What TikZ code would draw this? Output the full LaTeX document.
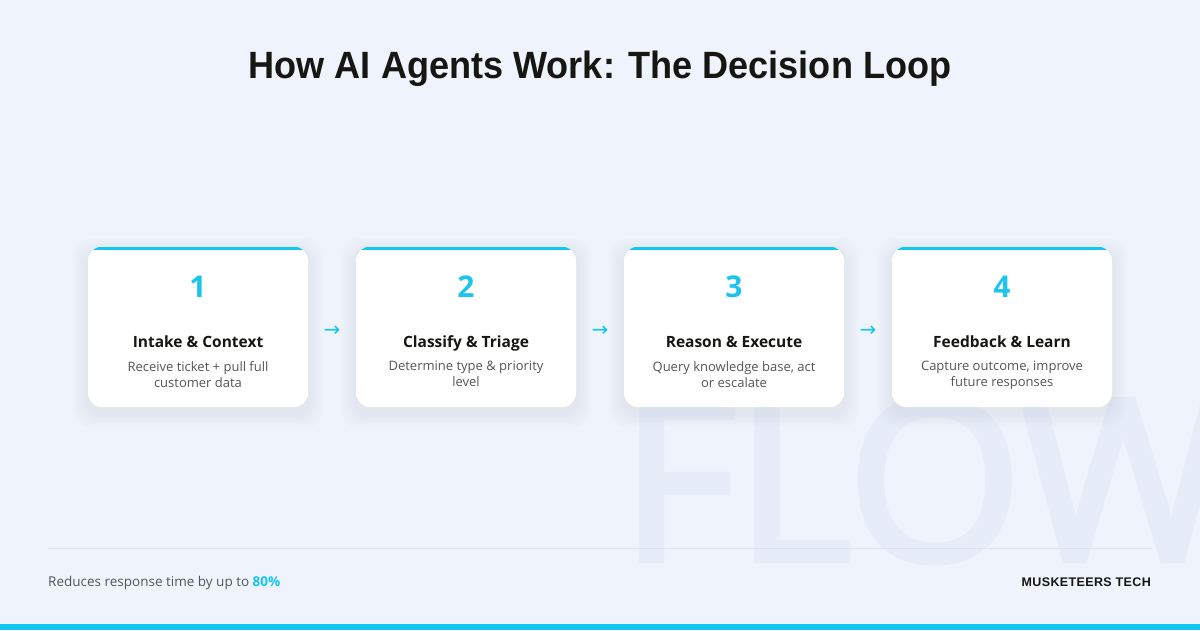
\documentclass[tikz,border=0pt]{standalone}
\usepackage{fontspec}
\setmainfont{Open Sans}
\newfontfamily\titlefont{Liberation Sans}
\newfontfamily\brandfont[LetterSpace=3]{Liberation Sans}
\newfontfamily\symfont{DejaVu Sans}
\newfontfamily\wmfont[FakeBold=3]{Open Sans}
\usetikzlibrary{calc}
\definecolor{bgc}{RGB}{239,243,251}
\definecolor{cyanc}{RGB}{16,199,241}
\definecolor{numc}{RGB}{30,196,240}
\definecolor{wmc}{RGB}{230,237,249}
\definecolor{linec}{RGB}{220,225,234}
\definecolor{ink}{RGB}{22,22,18}
\definecolor{descc}{RGB}{85,85,90}
\definecolor{shadc}{RGB}{110,125,160}
\pgfdeclarelayer{back}
\pgfdeclarelayer{shade}
\pgfsetlayers{back,shade,main}
\begin{document}
\begin{tikzpicture}[x=1pt,y=-1pt,
  card/.style={fill=white, rounded corners=14pt, minimum width=220pt, minimum height=160pt, inner sep=0pt},
  numtext/.style={font=\fontsize{30}{30}\selectfont\bfseries, text=numc, inner sep=0pt},
  ctitle/.style={font=\fontsize{15.5}{19}\selectfont\bfseries, text=ink, inner sep=0pt},
  cdesc/.style={font=\fontsize{13}{16}\selectfont, text=descc, align=center, inner sep=0pt},
  flowarrow/.style={font=\symfont\fontsize{20}{20}\selectfont, text=cyanc, inner sep=0pt},
  footer/.style={font=\fontsize{13.5}{13.5}\selectfont, text=descc, inner sep=0pt}
]
\useasboundingbox (0,0) rectangle (1200,630);

% title
\node[anchor=base, inner sep=0pt, text=ink, font=\titlefont\bfseries\fontsize{38}{38}\selectfont] (title) at (600,78)
  {\scalebox{0.95}[1]{How AI Agents Work: The Decision Loop}};

% cards
\foreach \i/\x/\t/\d in {
  1/198/{Intake \& Context}/{Receive ticket + pull full\\customer data},
  2/466/{Classify \& Triage}/{Determine type \& priority\\level},
  3/734/{Reason \& Execute}/{Query knowledge base, act\\or escalate},
  4/1002/{Feedback \& Learn}/{Capture outcome, improve\\future responses}}{
  \node[card] (card\i) at (\x,327) {};
  \begin{scope}
    \clip[rounded corners=14pt] (card\i.south west) rectangle (card\i.north east);
    \fill[cyanc] (card\i.north west) rectangle ([yshift=-3pt]card\i.north east);
  \end{scope}
  \node[numtext] (num\i) at (\x,287) {\i};
  \node[ctitle, anchor=base] (ct\i) at (\x,347) {\t};
  \node[cdesc, anchor=north] (cd\i) at (\x,361) {\d};
  \begin{pgfonlayer}{shade}
    \foreach \k in {1,...,12}{
      \fill[shadc, opacity=0.008, rounded corners=16pt]
        ([xshift=-1.2*\k pt, yshift=-1.2*\k pt-6pt]card\i.south west)
        rectangle ([xshift=1.2*\k pt, yshift=1.2*\k pt-6pt]card\i.north east);
    }
  \end{pgfonlayer}
}

% arrows between steps
\node[flowarrow] (arr1) at ($(card1.east)!0.5!(card2.west)+(0,4)$) {→};
\node[flowarrow] (arr2) at ($(card2.east)!0.5!(card3.west)+(0,4)$) {→};
\node[flowarrow] (arr3) at ($(card3.east)!0.5!(card4.west)+(0,4)$) {→};

% footer
\coordinate (dl) at (48,548);
\coordinate (dr) at (1152,548);
\draw[linec, line width=1pt] (dl) -- (dr);
\node[footer, anchor=base west] (note) at (48,586)
  {Reduces response time by up to \textcolor{cyanc}{\bfseries 80\%}};
\node[anchor=base east, inner sep=0pt, text=ink, font=\brandfont\bfseries\fontsize{12.5}{12.5}\selectfont] (brand) at (1151,586)
  {MUSKETEERS TECH};
\fill[cyanc] (0,624) rectangle (1200,630);

% background + watermark
\begin{pgfonlayer}{back}
  \fill[bgc] (0,0) rectangle (1200,630);
  \node[anchor=base west, inner sep=0pt, text=wmc, font=\wmfont\fontsize{224}{224}\selectfont] (wm) at (620,560) {FLOW};
\end{pgfonlayer}
\end{tikzpicture}
\end{document}
